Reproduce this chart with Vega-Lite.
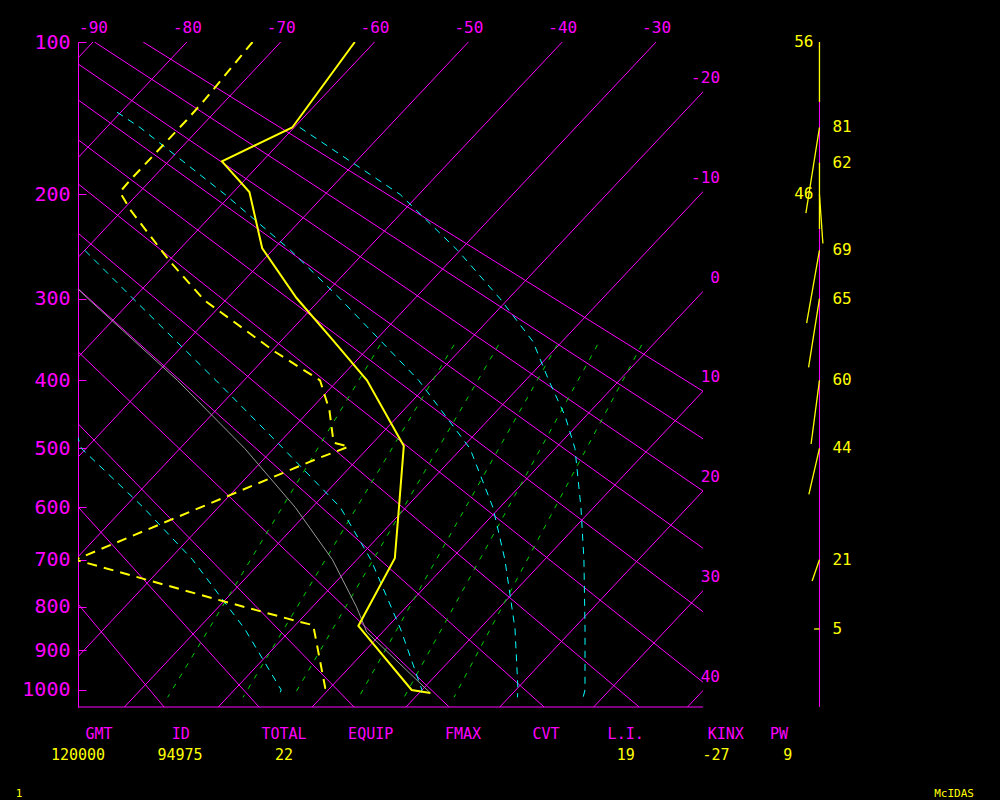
{
  "$schema": "https://vega.github.io/schema/vega-lite/v6.json",
  "width": 625,
  "height": 665,
  "autosize": "none",
  "padding": {"left": 78, "top": 42, "right": 297, "bottom": 93},
  "background": "black",
  "config": {"view": {"stroke": null}, "text": {"font": "DejaVu Sans Mono"}, "axis": {"labelFont": "DejaVu Sans Mono"}},
  "datasets": {
    "grid": [
      {"g":"i-90","t":-90,"p":100},{"g":"i-90","t":-90,"p":1045},
      {"g":"i-80","t":-80,"p":100},{"g":"i-80","t":-80,"p":1045},
      {"g":"i-70","t":-70,"p":100},{"g":"i-70","t":-70,"p":1045},
      {"g":"i-60","t":-60,"p":100},{"g":"i-60","t":-60,"p":1045},
      {"g":"i-50","t":-50,"p":100},{"g":"i-50","t":-50,"p":1045},
      {"g":"i-40","t":-40,"p":100},{"g":"i-40","t":-40,"p":1045},
      {"g":"i-30","t":-30,"p":100},{"g":"i-30","t":-30,"p":1045},
      {"g":"i-20","t":-20,"p":100},{"g":"i-20","t":-20,"p":1045},
      {"g":"i-10","t":-10,"p":100},{"g":"i-10","t":-10,"p":1045},
      {"g":"i0","t":0,"p":100},{"g":"i0","t":0,"p":1045},
      {"g":"i10","t":10,"p":100},{"g":"i10","t":10,"p":1045},
      {"g":"i20","t":20,"p":100},{"g":"i20","t":20,"p":1045},
      {"g":"i30","t":30,"p":100},{"g":"i30","t":30,"p":1045},
      {"g":"i40","t":40,"p":100},{"g":"i40","t":40,"p":1045},
      {"g":"d90","t":-84.66,"p":100},{"g":"d90","t":95.6,"p":1045},
      {"g":"d80","t":-89.84,"p":100},{"g":"d80","t":85.48,"p":1045},
      {"g":"d70","t":-95.01,"p":100},{"g":"d70","t":75.35,"p":1045},
      {"g":"d60","t":-100.19,"p":100},{"g":"d60","t":65.23,"p":1045},
      {"g":"d50","t":-105.37,"p":100},{"g":"d50","t":55.1,"p":1045},
      {"g":"d40","t":-110.54,"p":100},{"g":"d40","t":44.97,"p":1045},
      {"g":"d30","t":-115.72,"p":100},{"g":"d30","t":34.85,"p":1045},
      {"g":"d20","t":-120.89,"p":100},{"g":"d20","t":24.72,"p":1045},
      {"g":"d10","t":-126.07,"p":100},{"g":"d10","t":14.6,"p":1045},
      {"g":"d0","t":-131.25,"p":100},{"g":"d0","t":4.47,"p":1045},
      {"g":"d-10","t":-136.42,"p":100},{"g":"d-10","t":-5.66,"p":1045},
      {"g":"d-20","t":-141.6,"p":100},{"g":"d-20","t":-15.78,"p":1045}
    ],
    "mix": [
      {"g":"w1","t":-16.37,"p":1019},{"g":"w1","t":-29.05,"p":354},
      {"g":"w2","t":-8.34,"p":1019},{"g":"w2","t":-21.18,"p":354},
      {"g":"w3","t":-3.03,"p":1019},{"g":"w3","t":-16.43,"p":354},
      {"g":"w5","t":3.99,"p":1019},{"g":"w5","t":-10.19,"p":354},
      {"g":"w7","t":8.83,"p":1019},{"g":"w7","t":-5.89,"p":354},
      {"g":"w10","t":14.14,"p":1019},{"g":"w10","t":-1.18,"p":354}
    ],
    "moist": [
      {"g":"A","t":27.9,"p":1019},{"g":"A","t":27.37,"p":1000},{"g":"A","t":21.26,"p":850},{"g":"A","t":14.2,"p":700},{"g":"A","t":8.64,"p":600},{"g":"A","t":2.09,"p":500},{"g":"A","t":-2.25,"p":450},{"g":"A","t":-7.53,"p":400},{"g":"A","t":-13.09,"p":350},{"g":"A","t":-20.9,"p":300},{"g":"A","t":-30.27,"p":250},{"g":"A","t":-42.0,"p":200},{"g":"A","t":-59.4,"p":150},
      {"g":"B","t":20.9,"p":1019},{"g":"B","t":20.23,"p":1000},{"g":"B","t":13.8,"p":850},{"g":"B","t":5.78,"p":700},{"g":"B","t":-0.74,"p":600},{"g":"B","t":-9.1,"p":500},{"g":"B","t":-21.39,"p":400},{"g":"B","t":-37.95,"p":300},{"g":"B","t":-48.07,"p":250},{"g":"B","t":-60.66,"p":200},{"g":"B","t":-76.42,"p":150},{"g":"B","t":-80.4,"p":140},
      {"g":"C","t":10.5,"p":1019},{"g":"C","t":10,"p":1000},{"g":"C","t":1.6,"p":850},{"g":"C","t":-8.5,"p":700},{"g":"C","t":-17,"p":600},{"g":"C","t":-29,"p":500},{"g":"C","t":-43,"p":400},{"g":"C","t":-60,"p":300},{"g":"C","t":-70,"p":250},
      {"g":"D","t":-4.6,"p":1019},{"g":"D","t":-5,"p":1000},{"g":"D","t":-15,"p":850},{"g":"D","t":-27.5,"p":700},{"g":"D","t":-38,"p":600},{"g":"D","t":-50.5,"p":500},{"g":"D","t":-54,"p":460}
    ],
    "parcel": [
      {"i":0,"p":1008,"t":11.2},{"i":1,"p":857,"t":-1.7},{"i":2,"p":800,"t":-5.3},{"i":3,"p":700,"t":-12.6},{"i":4,"p":600,"t":-21.8},{"i":5,"p":500,"t":-33.1},{"i":6,"p":400,"t":-47.1},{"i":7,"p":350,"t":-55.5},{"i":8,"p":300,"t":-64.8},{"i":9,"p":250,"t":-75}
    ],
    "temp": [
      {"i":0,"p":100,"t":-62.1},{"i":1,"p":150,"t":-60.2},{"i":2,"p":174,"t":-64.3},{"i":3,"p":198,"t":-58.3},{"i":4,"p":248,"t":-51.3},{"i":5,"p":299,"t":-42.7},{"i":6,"p":348,"t":-34.6},{"i":7,"p":400,"t":-26.9},{"i":8,"p":496,"t":-16.4},{"i":9,"p":623,"t":-9.6},{"i":10,"p":697,"t":-6.1},{"i":11,"p":843,"t":-3.2},{"i":12,"p":1000,"t":8.9},{"i":13,"p":1008,"t":11.2}
    ],
    "dew": [
      {"i":0,"p":100,"t":-73},{"i":1,"p":132,"t":-72.3},{"i":2,"p":145,"t":-72.2},{"i":3,"p":188,"t":-72.2},{"i":4,"p":198,"t":-72.1},{"i":5,"p":213,"t":-69.2},{"i":6,"p":261,"t":-59.8},{"i":7,"p":302,"t":-52.2},{"i":8,"p":363,"t":-39.5},{"i":9,"p":400,"t":-31.9},{"i":10,"p":442,"t":-27.9},{"i":11,"p":491,"t":-24.2},{"i":12,"p":497,"t":-22.2},{"i":13,"p":518,"t":-24.5},{"i":14,"p":700,"t":-40},{"i":15,"p":785,"t":-20.6},{"i":16,"p":834,"t":-9.8},{"i":17,"p":841,"t":-8.1},{"i":18,"p":995,"t":-0.5},{"i":19,"p":1000,"t":0.4}
    ],
    "isolab": [
      {"lab":"-20","t":-20,"p":127.4},{"lab":"-10","t":-10,"p":197.7},{"lab":"0","t":0,"p":292.2},{"lab":"10","t":10,"p":414.9},{"lab":"20","t":20,"p":570.9},{"lab":"30","t":30,"p":764.5},{"lab":"40","t":40,"p":1001.5}
    ],
    "wind": [
      {"p":100,"spd":56,"dir":0,"lab":"56","side":"L"},
      {"p":150,"spd":81,"dir":9,"lab":"81","side":"R"},
      {"p":175,"spd":62,"dir":0,"lab":"62","side":"R"},
      {"p":200,"spd":46,"dir":356,"lab":"46","side":"L"},
      {"p":250,"spd":69,"dir":10,"lab":"69","side":"R"},
      {"p":300,"spd":65,"dir":9,"lab":"65","side":"R"},
      {"p":400,"spd":60,"dir":7.5,"lab":"60","side":"R"},
      {"p":500,"spd":44,"dir":13,"lab":"44","side":"R"},
      {"p":700,"spd":21,"dir":19,"lab":"21","side":"R"},
      {"p":850,"spd":5,"dir":90,"lab":"5","side":"R"}
    ],
    "tbl": [
      {"s":"GMT","xp":-89.36,"r":"h"},{"s":"ID","xp":-80.66,"r":"h"},{"s":"TOTAL","xp":-69.65,"r":"h"},{"s":"EQUIP","xp":-60.41,"r":"h"},{"s":"FMAX","xp":-50.57,"r":"h"},{"s":"CVT","xp":-41.73,"r":"h"},{"s":"L.I.","xp":-33.24,"r":"h"},{"s":"KINX","xp":-22.58,"r":"h"},{"s":"PW","xp":-16.9,"r":"h"},
      {"s":"120000","xp":-91.6,"r":"v"},{"s":"94975","xp":-80.73,"r":"v"},{"s":"22","xp":-69.65,"r":"v"},{"s":"19","xp":-33.24,"r":"v"},{"s":"-27","xp":-23.61,"r":"v"},{"s":"9","xp":-15.97,"r":"v"},
      {"s":"1","xp":-97.89,"r":"f"},{"s":"McIDAS","xp":1.75,"r":"f"}
    ]
  },
  "layer": [
    {
      "data": {"name": "grid"},
      "transform": [{"calculate": "datum.t - 18.67*(pow(datum.p,0.286) - 3.7325)", "as": "X"}],
      "mark": {"type": "line", "clip": true, "color": "#ff00ff", "strokeWidth": 1},
      "encoding": {
        "x": {"field": "X", "type": "quantitative",
              "scale": {"type": "linear", "domain": [-91.6, -25], "nice": false, "zero": false},
              "axis": {"orient": "top", "values": [-90,-80,-70,-60,-50,-40,-30], "labelExpr": "'' + datum.value",
                       "ticks": false, "domain": false, "grid": false, "title": null, "labelColor": "#ff00ff",
                       "labelFontSize": 16, "labelPadding": 7}},
        "y": {"field": "p", "type": "quantitative",
              "scale": {"type": "pow", "exponent": 0.286, "domain": [100, 1045], "reverse": true, "nice": false, "zero": false},
              "axis": {"orient": "left", "values": [100,150,200,250,300,350,400,450,500,550,600,650,700,750,800,850,900,950,1000],
                       "labelExpr": "datum.value % 100 == 0 ? '' + datum.value : ''", "tickSize": -8, "tickColor": "#ff00ff",
                       "domainColor": "#ff00ff", "labelColor": "#ff00ff", "labelFontSize": 20, "labelPadding": 16,
                       "grid": false, "title": null}},
        "detail": {"field": "g"},
        "order": {"field": "p"}
      }
    },
    {
      "data": {"name": "mix"},
      "transform": [{"calculate": "datum.t - 18.67*(pow(datum.p,0.286) - 3.7325)", "as": "X"}],
      "mark": {"type": "line", "clip": true, "color": "#00d000", "strokeWidth": 1, "strokeDash": [5, 7]},
      "encoding": {
        "x": {"field": "X", "type": "quantitative"},
        "y": {"field": "p", "type": "quantitative"},
        "detail": {"field": "g"},
        "order": {"field": "p"}
      }
    },
    {
      "data": {"name": "moist"},
      "transform": [{"calculate": "datum.t - 18.67*(pow(datum.p,0.286) - 3.7325)", "as": "X"}],
      "mark": {"type": "line", "clip": true, "color": "#00ffff", "strokeWidth": 1, "strokeDash": [7, 6]},
      "encoding": {
        "x": {"field": "X", "type": "quantitative"},
        "y": {"field": "p", "type": "quantitative"},
        "detail": {"field": "g"},
        "order": {"field": "p"}
      }
    },
    {
      "data": {"name": "parcel"},
      "transform": [{"calculate": "datum.t - 18.67*(pow(datum.p,0.286) - 3.7325)", "as": "X"}],
      "mark": {"type": "line", "clip": true, "color": "#9a9a9a", "strokeWidth": 1},
      "encoding": {
        "x": {"field": "X", "type": "quantitative"},
        "y": {"field": "p", "type": "quantitative"},
        "order": {"field": "i"}
      }
    },
    {
      "data": {"name": "dew"},
      "transform": [{"calculate": "datum.t - 18.67*(pow(datum.p,0.286) - 3.7325)", "as": "X"}],
      "mark": {"type": "line", "clip": true, "color": "#ffff00", "strokeWidth": 2, "strokeDash": [10, 7]},
      "encoding": {
        "x": {"field": "X", "type": "quantitative"},
        "y": {"field": "p", "type": "quantitative"},
        "order": {"field": "i"}
      }
    },
    {
      "data": {"name": "temp"},
      "transform": [{"calculate": "datum.t - 18.67*(pow(datum.p,0.286) - 3.7325)", "as": "X"}],
      "mark": {"type": "line", "clip": true, "color": "#ffff00", "strokeWidth": 2},
      "encoding": {
        "x": {"field": "X", "type": "quantitative"},
        "y": {"field": "p", "type": "quantitative"},
        "order": {"field": "i"}
      }
    },
    {
      "data": {"values": [{}]},
      "mark": {"type": "rule", "color": "#ff00ff", "strokeWidth": 1},
      "encoding": {"x": {"datum": -91.6}, "x2": {"datum": -25}, "y": {"datum": 1045}}
    },
    {
      "data": {"name": "isolab"},
      "transform": [{"calculate": "datum.t - 18.67*(pow(datum.p,0.286) - 3.7325)", "as": "X"}],
      "mark": {"type": "text", "color": "#ff00ff", "fontSize": 16, "align": "right", "baseline": "middle", "dx": 17, "dy": -14},
      "encoding": {
        "x": {"field": "X", "type": "quantitative"},
        "y": {"field": "p", "type": "quantitative"},
        "text": {"field": "lab"}
      }
    },
    {
      "data": {"values": [{}]},
      "mark": {"type": "rule", "color": "#ff00ff", "strokeWidth": 1},
      "encoding": {"x": {"datum": -12.59}, "y": {"datum": 100}, "y2": {"datum": 1045}}
    },
    {
      "data": {"name": "wind"},
      "mark": {"type": "point", "shape": "M0,0L0,2", "filled": false, "color": "#ffff00", "strokeWidth": 1.3, "opacity": 1},
      "encoding": {
        "x": {"datum": -12.59},
        "y": {"field": "p", "type": "quantitative"},
        "size": {"field": "spd", "type": "quantitative", "scale": {"type": "pow", "exponent": 2, "domain": [0, 100], "range": [0, 11449]}, "legend": null},
        "angle": {"field": "dir", "type": "quantitative", "scale": {"domain": [0, 360], "range": [0, 360]}}
      }
    },
    {
      "data": {"name": "wind"},
      "transform": [{"filter": "datum.side == 'R'"}],
      "mark": {"type": "text", "color": "#ffff00", "fontSize": 16, "align": "left", "baseline": "middle", "dx": 13},
      "encoding": {"x": {"datum": -12.59}, "y": {"field": "p", "type": "quantitative"}, "text": {"field": "lab"}}
    },
    {
      "data": {"name": "wind"},
      "transform": [{"filter": "datum.side == 'L'"}],
      "mark": {"type": "text", "color": "#ffff00", "fontSize": 16, "align": "right", "baseline": "middle", "dx": -6},
      "encoding": {"x": {"datum": -12.59}, "y": {"field": "p", "type": "quantitative"}, "text": {"field": "lab"}}
    },
    {
      "data": {"name": "tbl"},
      "transform": [{"filter": "datum.r == 'h'"}],
      "mark": {"type": "text", "color": "#ff00ff", "fontSize": 15, "align": "center", "baseline": "middle", "dy": 27},
      "encoding": {"x": {"field": "xp", "type": "quantitative"}, "y": {"datum": 1045}, "text": {"field": "s"}}
    },
    {
      "data": {"name": "tbl"},
      "transform": [{"filter": "datum.r == 'v'"}],
      "mark": {"type": "text", "color": "#ffff00", "fontSize": 15, "align": "center", "baseline": "middle", "dy": 48},
      "encoding": {"x": {"field": "xp", "type": "quantitative"}, "y": {"datum": 1045}, "text": {"field": "s"}}
    },
    {
      "data": {"name": "tbl"},
      "transform": [{"filter": "datum.r == 'f'"}],
      "mark": {"type": "text", "color": "#ffff00", "fontSize": 11, "align": "center", "baseline": "middle", "dy": 87},
      "encoding": {"x": {"field": "xp", "type": "quantitative"}, "y": {"datum": 1045}, "text": {"field": "s"}}
    }
  ]
}
